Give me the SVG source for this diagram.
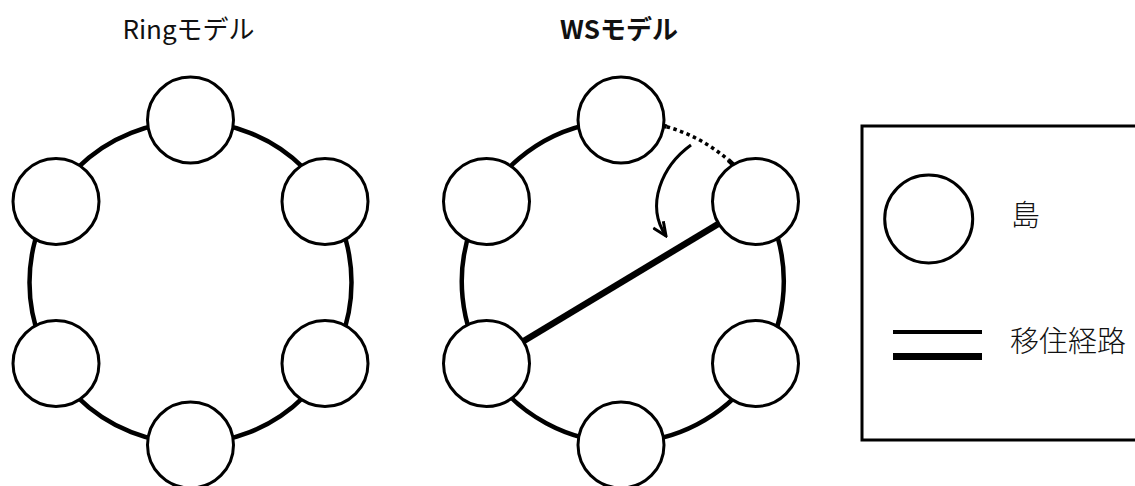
<svg xmlns="http://www.w3.org/2000/svg" width="1135" height="486" viewBox="0 0 1135 486">
  <defs>
    <style>
      .ring { fill: none; stroke: #000; stroke-width: 4.5; }
      .island { fill: #fff; stroke: #000; stroke-width: 3; }
      .title { font-family: "Noto Sans CJK JP", "Noto Sans", sans-serif; font-size: 26px; text-anchor: middle; fill: #111; }
      .label { font-family: "Noto Sans CJK JP", "Noto Sans", sans-serif; font-size: 29px; font-weight: 300; fill: #111; }
    </style>
    <marker id="chevron" viewBox="0 0 17 14" refX="15" refY="7" markerWidth="17" markerHeight="14" markerUnits="userSpaceOnUse" orient="auto">
      <path d="M1.3,0.9 L15,7 L1.3,13.1" fill="none" stroke="#000" stroke-width="3" stroke-linejoin="miter"/>
    </marker>
  </defs>

  <rect width="1135" height="486" fill="#fff"/>

  <!-- titles -->
  <text class="title" x="188.5" y="39">Ringモデル</text>
  <text class="title" x="619" y="38.5" font-weight="bold">WSモデル</text>

  <!-- connectors -->
  <g id="connectors">
    <!-- Ring model: full ring -->
    <circle class="ring" cx="190.5" cy="282.5" r="161"/>
    <!-- WS model: ring without the top-right arc -->
    <path class="ring" d="M666.7,126.7 A161,161 0 1 0 728.3,160"/>
    <!-- removed edge, dotted -->
    <path d="M666.7,126.7 A161,161 0 0 1 728.3,160" fill="none" stroke="#000" stroke-width="3.5" stroke-dasharray="3.5 3.5"/>
    <!-- rewired shortcut -->
    <line x1="755.5" y1="201.5" x2="486.5" y2="363.5" stroke="#000" stroke-width="6.5"/>
    <!-- rewiring arrow -->
    <path d="M691,145 C662,166 645,205 666,236" fill="none" stroke="#000" stroke-width="3" marker-end="url(#chevron)"/>
  </g>

  <!-- Ring model islands -->
  <g id="ring-n1"><circle class="island" cx="190.5" cy="120" r="43"/></g>
  <g id="ring-n2"><circle class="island" cx="325" cy="201.5" r="43"/></g>
  <g id="ring-n3"><circle class="island" cx="325" cy="363.5" r="43"/></g>
  <g id="ring-n4"><circle class="island" cx="190.5" cy="445" r="43"/></g>
  <g id="ring-n5"><circle class="island" cx="56" cy="363.5" r="43"/></g>
  <g id="ring-n6"><circle class="island" cx="56" cy="201.5" r="43"/></g>

  <!-- WS model islands -->
  <g id="ws-n1"><circle class="island" cx="621" cy="120" r="43"/></g>
  <g id="ws-n2"><circle class="island" cx="755.5" cy="201.5" r="43"/></g>
  <g id="ws-n3"><circle class="island" cx="755.5" cy="363.5" r="43"/></g>
  <g id="ws-n4"><circle class="island" cx="621" cy="445" r="43"/></g>
  <g id="ws-n5"><circle class="island" cx="486.5" cy="363.5" r="43"/></g>
  <g id="ws-n6"><circle class="island" cx="486.5" cy="201.5" r="43"/></g>

  <!-- legend -->
  <g id="legend">
    <rect x="862" y="126" width="300" height="314" fill="none" stroke="#000" stroke-width="3"/>
    <circle class="island" cx="928.7" cy="219" r="44"/>
    <text class="label" x="1011" y="225.5">島</text>
    <line x1="893" y1="332" x2="982" y2="332" stroke="#000" stroke-width="4"/>
    <line x1="893" y1="356.5" x2="982" y2="356.5" stroke="#000" stroke-width="7"/>
    <text class="label" x="1010" y="352">移住経路</text>
  </g>
</svg>
